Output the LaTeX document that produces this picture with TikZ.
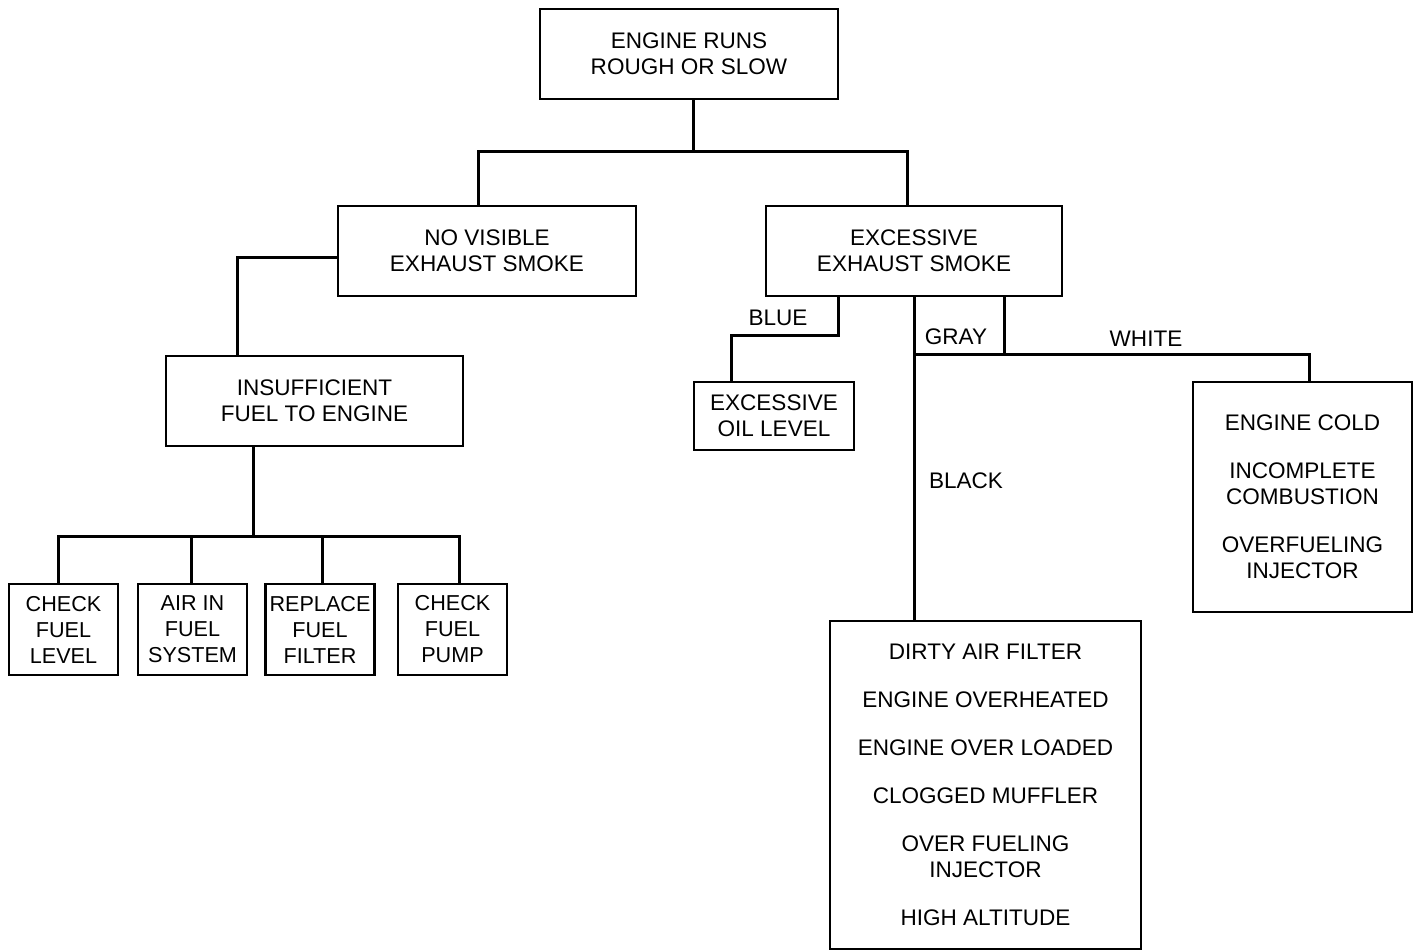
\documentclass[tikz,border=0pt]{standalone}
\usepackage{fontspec}
\setmainfont{Liberation Sans}
\usetikzlibrary{calc, positioning}

\tikzset{
  box/.style={draw, line width=1.9pt, align=center, inner sep=0pt,
    font=\fontsize{16.9}{19.5}\selectfont},
  link/.style={line width=2.25pt},
  tag/.style={inner sep=0pt, font=\fontsize{16.9}{19.5}\selectfont}
}

\begin{document}
\begin{tikzpicture}[x=0.75pt,y=-0.75pt]
\useasboundingbox (0,0) rectangle (1416,950);

\node[box, minimum width=223.5pt, minimum height=67.5pt] (root) at (689,54) {ENGINE RUNS\\ROUGH OR SLOW};
\node[box, minimum width=223.5pt, minimum height=67.5pt] (nv) at (487,251) {NO VISIBLE\\EXHAUST SMOKE};
\node[box, minimum width=222pt, minimum height=67.5pt] (ex) at (914,251) {EXCESSIVE\\EXHAUST SMOKE};
\node[box, minimum width=222.75pt, minimum height=67.5pt] (ins) at (314.5,401) {INSUFFICIENT\\FUEL TO ENGINE};

\foreach \name/\xpos/\txt in {c1/63.5/CHECK\\FUEL\\LEVEL, c2/192.5/AIR IN\\FUEL\\SYSTEM,
    c3/320/REPLACE\\FUEL\\FILTER, c4/452.5/CHECK\\FUEL\\PUMP} {
  \node[box, minimum width=81.75pt, minimum height=68.25pt,
    font=\fontsize{16.2}{19.5}\selectfont] (\name) at (\xpos,629.5) {\txt};
}

\node[box, minimum width=120pt, minimum height=51pt] (oil) at (774,416) {EXCESSIVE\\OIL LEVEL};
\node[box, minimum width=164.25pt, minimum height=172.5pt] (white) at (1302.5,497)
  {ENGINE COLD\\[16.5pt]INCOMPLETE\\COMBUSTION\\[16.5pt]OVERFUELING\\INJECTOR};
\node[box, minimum width=233.25pt, minimum height=246pt] (black) at (985.5,785)
  {DIRTY AIR FILTER\\[16.5pt]ENGINE OVERHEATED\\[16.5pt]ENGINE OVER LOADED\\[16.5pt]CLOGGED MUFFLER\\[16.5pt]OVER FUELING\\INJECTOR\\[16.5pt]HIGH ALTITUDE};

\node[tag] (lblBlue) at (778,318) {BLUE};
\node[tag] (lblGray) at (956,337) {GRAY};
\node[tag] (lblWhite) at (1146,339) {WHITE};
\node[tag] (lblBlack) at (966,481) {BLACK};

% top split
\draw[link] ([xshift=3pt]root.south) -- ++(0,51) coordinate (jTop);
\draw[link] ([xshift=-6.75pt]nv.north) |- (jTop) -| ([xshift=-5.25pt]ex.north);

% no visible smoke
\draw[link] ([yshift=-4.5pt]nv.west) -| ([xshift=-58pt]ins.north);
\draw[link] ([xshift=-46pt]ins.south) -- ++(0,89) coordinate (jIns);
\draw[link] ([xshift=-4pt]c1.north) |- (jIns) -| ([xshift=5pt]c4.north);
\draw[link] ([xshift=-1pt]c2.north) -- ([xshift=-1pt]c2.north |- jIns);
\draw[link] ([xshift=1.5pt]c3.north) -- ([xshift=1.5pt]c3.north |- jIns);

% excessive smoke
\draw[link] ([xshift=-57pt]ex.south) |- ([xshift=-32.25pt,yshift=33.75pt]oil.north) -- ([xshift=-32.25pt]oil.north);
\draw[link] (ex.south) -- (ex.south |- black.north);
\draw[link] ([xshift=67.5pt]ex.south) -- ++(0,57) coordinate (jGray);
\draw[link] (ex.south |- jGray) -| ([xshift=4.9pt]white.north);
\end{tikzpicture}
\end{document}
